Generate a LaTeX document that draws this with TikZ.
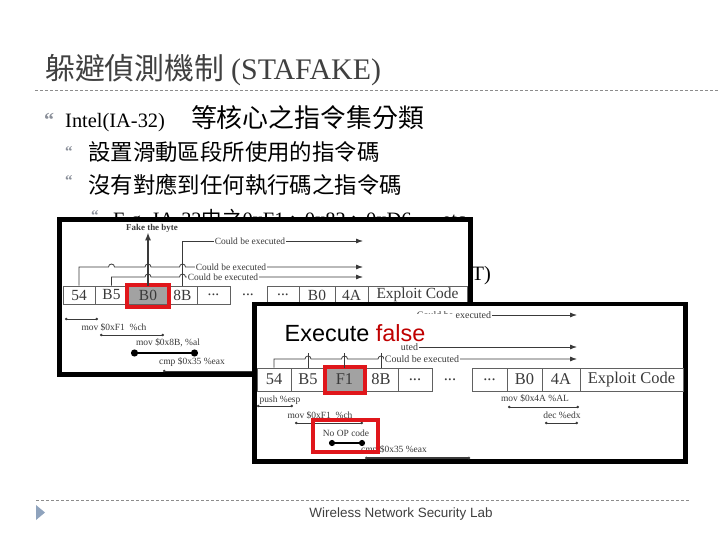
\documentclass[tikz,border=0pt]{standalone}
\usepackage{fontspec}
\setmainfont{Liberation Serif}
\setsansfont{Liberation Sans}
\newfontfamily\cjk{Noto Sans CJK TC}
\usetikzlibrary{arrows.meta}
\newcommand{\fsz}[1]{\fontsize{#1}{#1}\selectfont}
\newcommand{\celldots}{...}
\definecolor{titlegray}{HTML}{404040}
\definecolor{bulletgray}{HTML}{8A8F99}
\definecolor{inkgray}{HTML}{3A3A3A}
\definecolor{cellgray}{HTML}{A2A2A2}
\definecolor{markred}{HTML}{E0161B}
\definecolor{falsered}{HTML}{C00000}
\definecolor{footblue}{HTML}{8FA3BD}
\begin{document}
\begin{tikzpicture}[x=1bp,y=-1bp,
	dashrule/.style={draw=black!45,line width=0.8bp,dash pattern=on 3bp off 2bp},
	bulletmark/.style={anchor=base west,inner sep=0,text=bulletgray,font=\bfseries},
	frame/.style={draw=black,line width=4.5bp,fill=white,inner sep=0},
	cellA/.style={draw=inkgray!80,line width=0.7bp,inner sep=0,minimum height=18bp,text=inkgray,font=\fsz{15.5}},
	cellB/.style={draw=inkgray!80,line width=0.7bp,inner sep=0,minimum height=23bp,text=inkgray,font=\fsz{16.5}},
	redmark/.style={draw=markred,line width=4bp},
	link/.style={draw=inkgray,line width=0.8bp},
	linkto/.style={link,-{Latex[length=7bp,width=5bp]}},
	small/.style={inner sep=1bp,text=inkgray,font=\fsz{9.5}},
	span/.style={draw=inkgray,line width=0.8bp,{Circle[length=2.5bp]}-{Circle[length=2.5bp]}},
	bigspan/.style={draw=black,line width=2.2bp,{Circle[length=7bp]}-{Circle[length=7bp]}}]
	% Slide frame and title
	\useasboundingbox (0,0) rectangle (720,540);
	\node[anchor=west,inner sep=0,text=titlegray] (title) at (45,70) {\cjk\fsz{30}躲避偵測機制\ {\rmfamily (STAFAKE)}};
	\draw[dashrule] (35,90) -- (720,90);
	
	% Bullets
	\node[bulletmark,font=\bfseries\fsz{20}] (markA) at (44,127) {“};
	\node[anchor=west,inner sep=0] (bulA) at (65,119) {\fsz{20.5}Intel(IA-32)\hspace{26bp}{\cjk\fsz{26}等核心之指令集分類}};
	\node[bulletmark,font=\bfseries\fsz{15}] (markB) at (65,156.5) {“};
	\node[anchor=west,inner sep=0] (subA) at (88,152) {\cjk\fsz{22.5}設置滑動區段所使用的指令碼};
	\node[bulletmark,font=\bfseries\fsz{15}] (markC) at (65,185.5) {“};
	\node[anchor=west,inner sep=0] (subB) at (88,185) {\cjk\fsz{22.5}沒有對應到任何執行碼之指令碼};
	\node[bulletmark,font=\bfseries\fsz{15}] (markD) at (91,220.5) {“};
	\node[anchor=west,inner sep=0] (subsub) at (113,220) {\fsz{20.5}E.g. IA-32{\cjk 中之}0xF1{\cjk 、}0x82{\cjk 、}0xD6 … etc};
	\node[anchor=east,inner sep=0] (tail) at (491,276) {\fsz{20.5}T)};
	
	% First inset: faking one byte
	\node[frame,minimum width=411bp,minimum height=155bp] (insetA) at (265,297) {};
	\foreach \l/\r/\t/\n/\f in {63/95/54/a1/white,95/128/B5/a2/white,128/168/B0/a3/cellgray,168/197/8B/a4/white,197/230/\celldots/a5/white,267/299/\celldots/a6/white,299/335/B0/a7/white,335/368/4A/a8/white,368/467/Exploit Code/a9/white}
		\node[cellA,fill=\f,minimum width={(\r-\l)*1bp}] (\n) at ({(\l+\r)/2},295) {\t};
	\node[inner sep=0,text=inkgray,font=\fsz{15.5}] (gapA) at (248,295) {\celldots};
	\draw[redmark] ([shift={(-1,-1)}]a3.north west) rectangle ([shift={(1,3)}]a3.south east);
	
	\node[inner sep=0,text=inkgray,font=\bfseries\fsz{9}] (fake) at (152,228) {Fake the byte};
	\draw[link,line width=1.8bp,-{Latex[length=8bp,width=6bp]}] (a3.north) -- (a3.north |- fake.south);
	\draw[linkto] (a4.north) |- (363,241);
	\draw[linkto] (a1.north) |- (108.5,267) arc[start angle=180,end angle=0,radius=3bp]
		-- (145,267) arc[start angle=180,end angle=0,radius=3bp]
		-- (179.5,267) arc[start angle=180,end angle=0,radius=3bp] -- (363,267);
	\draw[linkto] (a2.north) |- (145,277) arc[start angle=180,end angle=0,radius=3bp]
		-- (179.5,277) arc[start angle=180,end angle=0,radius=3bp] -- (363,277);
	\node[small,fill=white] (execA) at (250,241) {Could be executed};
	\node[small,fill=white] (execB) at (231,267) {Could be executed};
	\node[small,fill=white] (execC) at (223,277) {Could be executed};
	
	\draw[span] (65,319) -- (98,319);
	\node[small] (movA) at (114,327) {mov \$0xF1\ \ \%ch};
	\draw[span] (100,335) -- (164,335);
	\node[small] (movB) at (168,343) {mov \$0x8B, \%al};
	\draw[bigspan] (131,353) -- (198,353);
	\node[small] (cmpA) at (192,362) {cmp \$0x35 \%eax};
	\draw[span] (163,371) -- (280,371);
	
	% Second inset: the executed false byte
	\node[frame,minimum width=431bp,minimum height=157.5bp] (insetB) at (470,382.75) {};
	\foreach \l/\r/\t/\n/\f in {257/291/54/b1/white,291/325/B5/b2/white,325/364/F1/b3/cellgray,364/398/8B/b4/white,398/432/\celldots/b5/white,472/507/\celldots/b6/white,507/542/B0/b7/white,542/580/4A/b8/white,580/683/Exploit Code/b9/white}
		\node[cellB,fill=\f,minimum width={(\r-\l)*1bp}] (\n) at ({(\l+\r)/2},379.5) {\t};
	\node[inner sep=0,text=inkgray,font=\fsz{16.5}] (gapB) at (450,379.5) {\celldots};
	\draw[redmark] ([shift={(0,-1)}]b3.north west) rectangle ([shift={(1,2)}]b3.south east);
	
	\draw[linkto] (b4.north) |- (577,315);
	\node[small,fill=white,font=\fsz{10}] (execD) at (454,315) {Could be executed};
	\draw[linkto] (b3.north) |- (577,347);
	\node[small,fill=white,font=\fsz{10}] (execE) at (381,347) {Could be executed};
	\draw[link] (b2.north) -- (308,340);
	\draw[linkto] (b1.north) |- (305,359) arc[start angle=180,end angle=0,radius=3bp]
		-- (341.5,359) arc[start angle=180,end angle=0,radius=3bp]
		-- (378,359) arc[start angle=180,end angle=0,radius=3bp] -- (577,359);
	\node[small,fill=white,font=\fsz{10}] (execF) at (422,359) {Could be executed};
	\fill[white] (279,314) rectangle (455,341);
	\fill[white] (279,341) rectangle (401,353);
	\node[inner sep=0,font=\sffamily\fsz{23.5}] (exec) at (355,333) {Execute \textcolor{falsered}{false}};
	
	\node[small] (push) at (280,400) {push \%esp};
	\draw[span] (257,406) -- (293,406);
	\node[small] (movC) at (320,415) {mov \$0xF1\ \ \%ch};
	\draw[span] (295,423) -- (363,423);
	\node[small] (cmpB) at (394,450) {cmp \$0x35 \%eax};
	\draw[span,line width=1.2bp] (365,458) -- (470,458);
	\node[small] (noop) at (346,433) {No OP code};
	\draw[bigspan,line width=1.8bp,{Circle[length=6bp]}-{Circle[length=6bp]}] (329,443) -- (365,443);
	\draw[redmark] (313,420) rectangle (378,452);
	\node[small] (movD) at (535,398) {mov \$0x4A \%AL};
	\draw[span] (508,407) -- (579,407);
	\node[small] (dec) at (562,415) {dec \%edx};
	\draw[span] (545,423) -- (578,423);
	
	% Footer
	\draw[dashrule] (36,500) -- (690,500);
	\fill[footblue] (36,505) -- (45,512.5) -- (36,520) -- cycle;
	\node[inner sep=0,text=titlegray,font=\sffamily\fsz{13.5}] (foot) at (401,514) {Wireless Network Security Lab};
\end{tikzpicture}
\end{document}
